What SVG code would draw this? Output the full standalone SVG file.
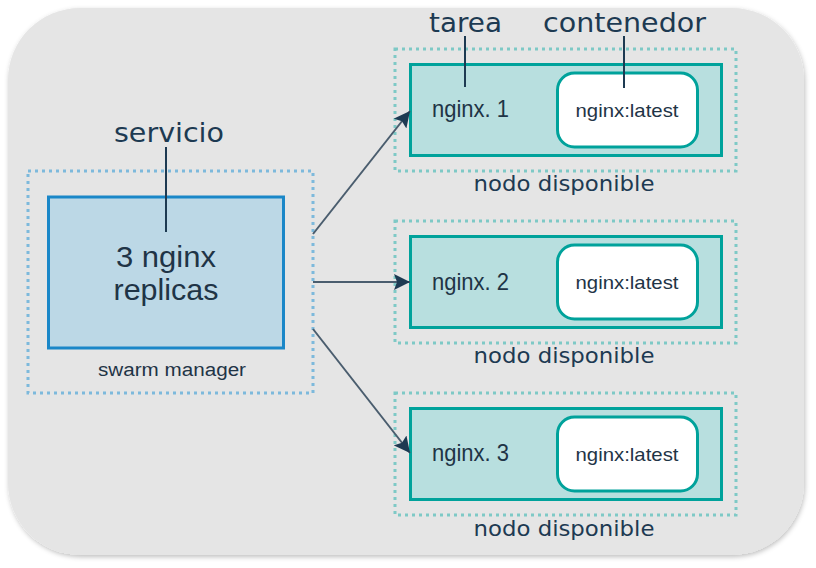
<svg xmlns="http://www.w3.org/2000/svg" width="816" height="568" viewBox="0 0 816 568">
<defs>
<filter id="soft" x="-5%" y="-5%" width="110%" height="110%">
<feGaussianBlur in="SourceAlpha" stdDeviation="2.5"/>
<feOffset dx="1" dy="2" result="b"/>
<feFlood flood-color="#000" flood-opacity="0.25"/>
<feComposite in2="b" operator="in" result="s"/>
<feMerge><feMergeNode in="s"/><feMergeNode in="SourceGraphic"/></feMerge>
</filter>
<marker id="arr" markerUnits="userSpaceOnUse" markerWidth="17" markerHeight="16" refX="16" refY="8" orient="auto">
<path d="M0,0 L16,8 L0,16 L3,8 Z" fill="#1e3a52"/>
</marker>
<style>
.dotm{fill:none;stroke:#7db9dc;stroke-width:3;stroke-dasharray:3 4}
.dotn{fill:none;stroke:#7ec9c6;stroke-width:3;stroke-dasharray:3 4}
.task{fill:#b8dfdf;stroke:#00a29b;stroke-width:3}
.cont{fill:#ffffff;stroke:#00a29b;stroke-width:3}
.lbl{font-family:"DejaVu Sans",sans-serif;fill:#1d3a52}
.ar{font-family:"Liberation Sans",Arial,sans-serif;fill:#1f3446}
.lead{stroke:#1d3a52;stroke-width:2}
.conn{stroke:#4a5d6e;stroke-width:2;fill:none}
</style>
</defs>
<rect x="8" y="8" width="796" height="547" rx="72" ry="72" fill="#e5e5e5" filter="url(#soft)"/>

<g id="manager">
<rect class="dotm" x="28" y="171" width="285" height="222"/>
<rect x="48.5" y="197" width="235" height="151" fill="#bcd8e6" stroke="#1a87c8" stroke-width="3"/>
<text class="ar" x="166" y="267" font-size="29" text-anchor="middle" textLength="100" lengthAdjust="spacingAndGlyphs">3 nginx</text>
<text class="ar" x="166" y="300" font-size="29" text-anchor="middle" textLength="105" lengthAdjust="spacingAndGlyphs">replicas</text>
<text class="ar" x="172" y="376" font-size="18" text-anchor="middle" textLength="148" lengthAdjust="spacingAndGlyphs">swarm manager</text>
<text class="lbl" x="169" y="142" font-size="27" text-anchor="middle" textLength="110" lengthAdjust="spacingAndGlyphs">servicio</text>
<line class="lead" x1="166" y1="147" x2="166" y2="232"/>
</g>

<g id="node1">
<rect class="dotn" x="395" y="49" width="341" height="122"/>
<rect class="task" x="410.5" y="64.5" width="311" height="91"/>
<rect class="cont" x="557.5" y="73" width="140" height="74" rx="17"/>
<text class="ar" x="432" y="117" font-size="24" textLength="77" lengthAdjust="spacingAndGlyphs">nginx. 1</text>
<text class="ar" x="627" y="117" font-size="19" text-anchor="middle" textLength="103" lengthAdjust="spacingAndGlyphs">nginx:latest</text>
<text class="lbl" x="564" y="191" font-size="21" text-anchor="middle" textLength="181" lengthAdjust="spacingAndGlyphs">nodo disponible</text>
<text class="lbl" x="465.5" y="32" font-size="27" text-anchor="middle" textLength="73" lengthAdjust="spacingAndGlyphs">tarea</text>
<text class="lbl" x="624.5" y="32" font-size="27" text-anchor="middle" textLength="163" lengthAdjust="spacingAndGlyphs">contenedor</text>
<line class="lead" x1="465" y1="36" x2="465" y2="87"/>
<line class="lead" x1="624" y1="36" x2="624" y2="88"/>
</g>

<g id="node2">
<rect class="dotn" x="395" y="221" width="341" height="122"/>
<rect class="task" x="410.5" y="236.5" width="311" height="91"/>
<rect class="cont" x="557.5" y="245" width="140" height="74" rx="17"/>
<text class="ar" x="432" y="290" font-size="24" textLength="77" lengthAdjust="spacingAndGlyphs">nginx. 2</text>
<text class="ar" x="627" y="289" font-size="19" text-anchor="middle" textLength="103" lengthAdjust="spacingAndGlyphs">nginx:latest</text>
<text class="lbl" x="564" y="363" font-size="21" text-anchor="middle" textLength="181" lengthAdjust="spacingAndGlyphs">nodo disponible</text>
</g>

<g id="node3">
<rect class="dotn" x="395" y="393" width="341" height="122"/>
<rect class="task" x="410.5" y="408.5" width="311" height="91"/>
<rect class="cont" x="557.5" y="417" width="140" height="74" rx="17"/>
<text class="ar" x="432" y="461" font-size="24" textLength="77" lengthAdjust="spacingAndGlyphs">nginx. 3</text>
<text class="ar" x="627" y="461" font-size="19" text-anchor="middle" textLength="103" lengthAdjust="spacingAndGlyphs">nginx:latest</text>
<text class="lbl" x="564" y="536" font-size="21" text-anchor="middle" textLength="181" lengthAdjust="spacingAndGlyphs">nodo disponible</text>
</g>

<g id="connectors">
<line class="conn" x1="313" y1="234" x2="410" y2="111" marker-end="url(#arr)"/>
<line class="conn" x1="313" y1="282" x2="410" y2="282" marker-end="url(#arr)"/>
<line class="conn" x1="313" y1="329" x2="410" y2="453" marker-end="url(#arr)"/>
</g>
</svg>
